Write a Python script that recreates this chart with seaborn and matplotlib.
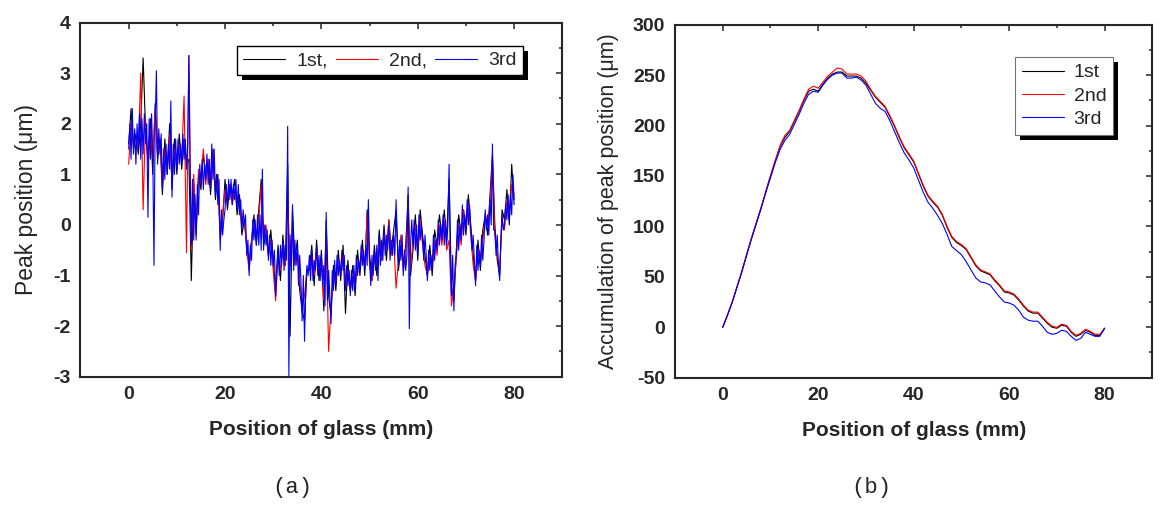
import numpy as np
import pandas as pd
import seaborn as sns
import matplotlib.pyplot as plt
import matplotlib.patheffects as pe
from matplotlib.ticker import MultipleLocator

# data
# (a) peak position, 1st and 2nd sampled every 0.5 mm, 3rd every 0.25 mm (0-80 mm)
peak_1st = [1.6, 2.3, 1.5, 1.8, 1.4, 2.0, 3.3, 1.9, 1.3, 2.1,
            1.0, 2.4, 1.3, 1.7, 0.6, 1.7, 1.0, 2.0, 0.7, 1.7,
            1.0, 1.8, 1.1, 1.7, 1.2, 1.3, -1.1, 0.8, -0.2, 1.0,
            0.7, 1.4, 1.0, 1.2, 0.6, 1.5, 0.5, 1.0, -0.2, 0.1,
            0.9, 0.3, 0.8, 0.6, 0.9, 0.2, 0.6, -0.2, 0.1, -0.4,
            -0.8, -0.3, 0.2, -0.4, 0.3, 0.9, -0.4, -0.2, -0.6, -0.1,
            -0.7, -1.3, -0.4, -1.1, -0.2, -0.8, 1.2, -2.2, 0.3, -0.7,
            -0.3, -1.3, -1.7, -1.9, -0.9, -0.9, -0.4, -1.2, -0.3, -1.1,
            -0.5, -1.7, 0.1, -1.4, -1.8, -0.8, -1.3, -0.5, -1.1, -0.4,
            -1.75, -0.7, -1.3, -0.8, -1.4, -0.5, -1.0, -0.3, -1.0, 0.3,
            -0.6, -1.1, -0.4, -1.0, -0.1, -0.7, 0.0, -0.7, 0.1, -0.5,
            -0.1, 0.3, -0.9, -0.4, -0.8, -0.4, 0.6, -1.0, -0.5, 0.2,
            -0.7, 0.3, -0.2, -0.6, -1.0, -0.4, -1.0, -0.1, -0.4, 0.2,
            -0.2, 0.3, -0.3, 0.9, -1.2, -1.5, -0.5, 0.2, -0.2, 0.3,
            -0.2, 0.6, 0.0, -0.6, -1.1, -0.3, -0.9, -0.1, 0.2, -0.2,
            0.6, 1.4, 0.0, -0.7, -1.0, 0.3, 0.1, 0.7, 0.0, 1.2, 0.4]
peak_2nd = [1.2, 2.0, 1.6, 1.7, 1.5, 3.0, 0.3, 2.1, 1.2, 1.9,
            1.3, 2.3, 1.4, 1.7, 0.8, 1.5, 1.1, 1.8, 0.9, 1.5,
            1.2, 1.6, 1.3, 2.55, -0.55, 3.35, -0.5, 1.0, -0.1, 1.1,
            0.9, 1.5, 0.8, 1.3, 0.8, 1.4, 0.7, 0.8, -0.3, 0.2,
            0.7, 0.5, 0.8, 0.4, 0.7, 0.4, 0.4, 0.0, 0.1, -0.5,
            -0.9, -0.3, 0.0, -0.2, 0.1, 0.8, -0.3, 0.0, -0.6, -0.3,
            -0.9, -1.5, -0.6, -0.9, -0.4, -0.8, 0.5, -0.8, -0.2, -0.8,
            -0.5, -1.1, -1.6, -1.4, -0.9, -0.9, -0.6, -1.0, -0.5, -0.9,
            -0.7, -1.5, -0.2, -2.5, -1.6, -1.0, -1.1, -0.7, -0.9, -0.6,
            -1.2, -0.9, -1.3, -1.0, -1.2, -0.7, -0.8, -0.5, -0.8, 0.2,
            -0.8, -1.1, -0.6, -0.8, -0.3, -0.7, -0.2, -0.5, 0.1, -0.6,
            -0.3, -1.25, -0.7, -0.2, -0.9, -0.6, 0.4, -0.9, -0.3, 0.0,
            -0.5, 0.1, -0.4, -0.8, -1.0, -0.6, -0.8, -0.3, -0.6, 0.0,
            -0.4, 0.1, -0.5, -0.3, -1.6, -1.2, -0.7, 0.0, -0.4, 0.3,
            0.0, 0.4, -0.2, -0.8, -1.1, -0.5, -0.7, -0.3, 0.2, 0.0,
            0.4, 1.3, -0.2, -0.6, -0.9, 0.1, -0.1, 0.5, 0.2, 0.8, 0.6]
peak_3rd = [1.5, 2.0, 1.3, 2.3, 1.4, 1.9, 1.2, 2.0, 1.5, 2.2, 1.3, 2.1,
            1.4, 2.2, 1.6, 2.0, 0.15, 2.1, 1.3, 2.2, 1.4, -0.8, 2.0, 3.05,
            1.2, 1.9, 1.4, 1.8, 0.7, 1.5, 0.9, 1.6, 1.0, 1.6, 1.1, 2.45,
            0.55, 1.6, 1.0, 1.7, 1.1, 1.7, 1.2, 1.6, 1.2, 1.8, 1.3, 1.7,
            1.1, 1.6, 3.35, 1.0, -0.4, 0.9, -0.3, 0.6, -0.3, 0.8, 0.2, 1.2,
            0.8, 1.3, 0.7, 1.2, 0.9, 1.4, 0.8, 1.3, 0.7, 1.6, 0.9, 1.5,
            0.6, 1.0, 0.4, 0.9, -0.5, 0.3, -0.2, 0.1, 0.3, 0.8, 0.4, 0.9,
            0.5, 0.9, 0.4, 0.8, 0.5, 0.9, 0.3, 0.8, 0.2, 0.5, -0.1, 0.3,
            0.0, 0.2, -0.6, -0.3, -1.0, -0.4, -0.7, 0.1, -0.3, 0.1, -0.4, 0.2,
            -0.4, 0.2, -0.5, 1.1, -0.5, 0.0, -0.4, -0.1, -0.7, -0.2, -0.8, -0.3,
            -0.8, -0.5, -1.4, -0.9, -0.5, -1.0, -0.4, -0.8, -0.3, -0.9, -0.4, -0.7,
            1.95, -3.0, -0.2, -0.9, 0.4, -0.9, -0.3, -0.8, -0.4, -1.2, -0.6, -1.1,
            -1.9, -1.0, -2.3, -1.2, -0.8, -1.0, -0.6, -1.1, -0.5, -1.1, -0.7, -0.9,
            -0.4, -1.0, -0.6, -1.1, -0.6, -1.2, -0.8, -1.6, 0.25, -1.5, -0.9, -1.4,
            -1.95, -0.9, -1.3, -0.7, -1.2, -0.6, -1.0, -0.7, -1.0, -0.5, -0.9, -0.6,
            -1.3, -0.8, -1.2, -0.9, -1.4, -0.9, -1.3, -0.8, -1.3, -0.6, -1.0, -0.7,
            -0.9, -0.4, -0.8, -0.5, -0.9, -0.4, -0.8, 0.5, -0.7, -1.2, -0.6, -1.0,
            -0.5, -0.9, -0.4, -1.1, -0.2, -0.8, -0.3, -0.7, -0.1, -0.6, -0.2, -0.5,
            0.0, -0.7, -0.3, -0.6, -0.2, -0.6, 0.5, -0.3, -0.8, -0.3, -0.7, -0.2,
            -1.0, -0.5, -0.9, -0.6, 0.75, -2.05, -0.4, 0.1, -0.4, 0.1, -0.5, 0.0,
            -0.6, 0.2, -0.3, 0.0, -0.3, -0.7, -0.2, -0.6, -1.1, -0.5, -0.9, -0.6,
            -0.9, -0.2, -0.7, -0.3, -0.5, 0.1, -0.4, 0.0, -0.3, 0.2, -0.4, 0.1,
            -0.4, 0.0, 1.2, -0.6, -1.4, -0.6, -1.7, -0.8, -0.6, 0.1, -0.5, 0.0,
            -0.3, 0.4, -0.2, 0.2, -0.1, 0.5, 0.0, 0.4, -0.1, -0.5, -0.2, -0.7,
            -1.2, -0.4, -0.9, -0.5, -0.8, -0.2, -0.7, -0.3, 0.3, -0.1, 0.2, -0.2,
            0.5, 0.0, 1.6, -0.1, -0.1, -0.6, -0.2, -0.8, -1.1, -0.3, 0.2, -0.1,
            0.0, 0.4, 0.1, 0.6, 0.1, 0.6, 0.2, 1.0, 0.5]

# (b) accumulation of peak position, every 1 mm from 0 to 80 mm
acc_1st = [0, 12, 25, 40, 55, 72, 88, 103, 118, 134,
           150, 165, 179, 188, 194, 204, 214, 225, 234, 236,
           234, 241, 247, 251, 253, 253, 249, 249, 249, 247,
           242, 235, 228, 223, 218, 209, 199, 188, 178, 171,
           164, 152, 140, 130, 124, 119, 111, 99, 89, 84,
           81, 77, 69, 61, 56, 54, 52, 46, 41, 35,
           34, 32, 27, 21, 16, 14, 14, 9, 4, 0,
           -1, 2, 1, -5, -9, -7, -3, -5, -8, -8, -1]
acc_2nd = [0, 12, 25, 40, 55, 72, 88, 103, 118, 134,
           150, 165, 180, 190, 195, 205, 215, 226, 236, 239,
           237, 243, 249, 253, 257, 256, 251, 251, 251, 249,
           244, 236, 229, 224, 219, 210, 200, 189, 179, 172,
           165, 153, 141, 131, 125, 120, 112, 100, 90, 85,
           82, 78, 70, 62, 57, 55, 53, 47, 42, 36,
           35, 33, 28, 22, 17, 15, 15, 10, 5, 1,
           0, 3, 2, -4, -8, -6, -2, -4, -7, -7, -1]
acc_3rd = [0, 12, 25, 40, 55, 71, 87, 102, 117, 133,
           148, 163, 176, 185, 191, 201, 211, 222, 231, 234,
           233, 240, 246, 250, 252, 252, 247, 247, 248, 245,
           240, 231, 222, 217, 214, 205, 194, 183, 173, 166,
           158, 146, 134, 124, 118, 111, 103, 92, 80, 76,
           72, 65, 57, 49, 45, 44, 42, 36, 30, 25,
           24, 22, 17, 10, 7, 6, 6, 1, -5, -7,
           -6, -3, -4, -9, -13, -11, -5, -7, -9, -9, -1]

runs = ['1st', '2nd', '3rd']
colors = {'1st': 'black', '2nd': 'red', '3rd': 'blue'}


def long_frame(series):
    parts = []
    for run, vals in zip(runs, series):
        parts.append(pd.DataFrame({'pos': np.linspace(0, 80, len(vals)),
                                   'val': vals, 'run': run}))
    return pd.concat(parts, ignore_index=True)


df_a = long_frame([peak_1st, peak_2nd, peak_3rd])
df_b = long_frame([acc_1st, acc_2nd, acc_3rd])

sns.set_style('white')
plt.rcParams['font.family'] = ['Liberation Sans', 'DejaVu Sans']
plt.rcParams['axes.linewidth'] = 1.5
plt.rcParams['axes.unicode_minus'] = False

fig = plt.figure(figsize=(11.7, 5.08), dpi=100)
ax1 = fig.add_axes([0.0688, 0.2585, 0.4118, 0.697])
ax2 = fig.add_axes([0.5769, 0.2565, 0.408, 0.695])

for ax, df in ((ax1, df_a), (ax2, df_b)):
    sns.lineplot(data=df, x='pos', y='val', hue='run', hue_order=runs,
                 palette=colors, estimator=None, sort=False, lw=0.8,
                 legend=False, ax=ax)

ax1.set_xlim(-10, 90)
ax1.set_ylim(-3, 4)
ax1.yaxis.set_major_locator(MultipleLocator(1))
ax1.yaxis.set_minor_locator(MultipleLocator(0.5))

ax2.set_xlim(-10, 90)
ax2.set_ylim(-50, 300)
ax2.yaxis.set_major_locator(MultipleLocator(50))
ax2.yaxis.set_minor_locator(MultipleLocator(25))

for ax in (ax1, ax2):
    ax.xaxis.set_major_locator(MultipleLocator(20))
    ax.xaxis.set_minor_locator(MultipleLocator(10))
    ax.tick_params(which='both', direction='in', top=True, right=True,
                   width=1.1, labelsize=14)
    ax.tick_params(which='major', length=4, pad=7)
    ax.tick_params(which='minor', length=2)
    for lab in ax.get_xticklabels() + ax.get_yticklabels():
        lab.set_fontweight('bold')
    ax.set_xlabel('Position of glass (mm)', fontsize=15, fontweight='bold',
                  labelpad=12)

ax1.set_ylabel('Peak position (μm)', fontsize=16.5, labelpad=11)
ax2.set_ylabel('Accumulation of peak position (μm)', fontsize=15.5, labelpad=10)

shade = [pe.SimplePatchShadow(offset=(3.5, -3.5), shadow_rgbFace='black', alpha=1),
         pe.Normal()]
leg1 = ax1.legend(ax1.lines[:3], ['1st,', '2nd,', '3rd'], ncol=3,
                  loc='upper right', bbox_to_anchor=(0.918, 0.934),
                  borderaxespad=0, fontsize=14, fancybox=False, edgecolor='black',
                  handlelength=2.15, handletextpad=0.6, columnspacing=0.4,
                  borderpad=0.3, framealpha=1)
leg1.get_frame().set_linewidth(1.0)
leg1.get_frame().set_path_effects(shade)

leg2 = ax2.legend(ax2.lines[:3], runs, loc='upper right',
                  bbox_to_anchor=(0.918, 0.9085), borderaxespad=0, fontsize=14,
                  fancybox=False, edgecolor='0.45', handlelength=2.15,
                  handletextpad=0.5, labelspacing=0.3, borderpad=0.35,
                  framealpha=1)
leg2.get_frame().set_linewidth(0.8)
leg2.get_frame().set_path_effects(shade)

mono = ['Liberation Mono', 'DejaVu Sans Mono']
fig.text(0.2496, 0.041, '(a)', ha='center', va='center', fontsize=16, family=mono)
fig.text(0.7443, 0.041, '(b)', ha='center', va='center', fontsize=16, family=mono)

fig.savefig('out.png', dpi=100)
